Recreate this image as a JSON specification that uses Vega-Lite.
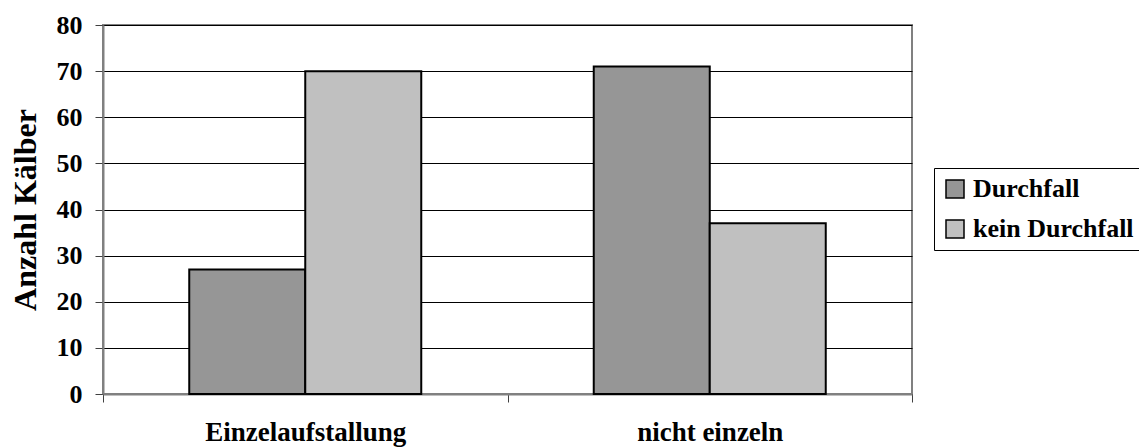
{
  "$schema": "https://vega.github.io/schema/vega-lite/v6.json",
  "width": 809,
  "height": 369,
  "autosize": {"type": "none"},
  "padding": {"left": 103, "top": 25, "right": 227, "bottom": 53},
  "background": "white",
  "config": {
    "font": "Liberation Serif",
    "view": {"stroke": "#808080", "strokeWidth": 2}
  },
  "data": {
    "values": [
      {"Haltung": "Einzelaufstallung", "Gruppe": "Durchfall", "Anzahl": 27},
      {"Haltung": "Einzelaufstallung", "Gruppe": "kein Durchfall", "Anzahl": 70},
      {"Haltung": "nicht einzeln", "Gruppe": "Durchfall", "Anzahl": 71},
      {"Haltung": "nicht einzeln", "Gruppe": "kein Durchfall", "Anzahl": 37}
    ]
  },
  "mark": {"type": "bar", "stroke": "black", "strokeWidth": 2},
  "encoding": {
    "x": {
      "field": "Haltung",
      "type": "nominal",
      "scale": {"paddingInner": 0, "paddingOuter": 0},
      "axis": {
        "title": null,
        "labelAngle": 0,
        "labelFont": "Liberation Serif",
        "labelFontSize": 27,
        "labelFontWeight": "bold",
        "labelColor": "black",
        "labelPadding": 17,
        "labelLimit": 500,
        "tickBand": "extent",
        "tickSize": 8,
        "tickColor": "#404040",
        "domainColor": "#808080",
        "domainWidth": 2
      }
    },
    "xOffset": {"field": "Gruppe", "scale": {"paddingInner": 0, "paddingOuter": 0.7435}},
    "y": {
      "field": "Anzahl",
      "type": "quantitative",
      "scale": {"domain": [0, 80], "nice": false},
      "axis": {
        "title": "Anzahl Kälber",
        "titleFont": "Liberation Serif",
        "titleFontSize": 32,
        "titleFontWeight": "bold",
        "titleColor": "black",
        "titlePadding": 14,
        "values": [0, 10, 20, 30, 40, 50, 60, 70, 80],
        "labelFont": "Liberation Serif",
        "labelFontSize": 26,
        "labelFontWeight": "bold",
        "labelColor": "black",
        "labelPadding": 13,
        "tickSize": 8,
        "tickColor": "#404040",
        "gridColor": "black",
        "gridWidth": 1,
        "domainColor": "#808080",
        "domainWidth": 2
      }
    },
    "color": {
      "field": "Gruppe",
      "type": "nominal",
      "scale": {"domain": ["Durchfall", "kein Durchfall"], "range": ["#969696", "#c0c0c0"]},
      "legend": {
        "title": null,
        "orient": "none",
        "legendX": 831,
        "legendY": 143,
        "strokeColor": "black",
        "fillColor": "white",
        "padding": 8,
        "rowPadding": 14,
        "symbolType": "square",
        "symbolSize": 324,
        "symbolStrokeColor": "black",
        "symbolStrokeWidth": 1.5,
        "symbolOpacity": 1,
        "labelFont": "Liberation Serif",
        "labelFontSize": 26,
        "labelFontWeight": "bold",
        "labelColor": "black",
        "labelOffset": 5,
        "labelLimit": 300
      }
    }
  }
}
